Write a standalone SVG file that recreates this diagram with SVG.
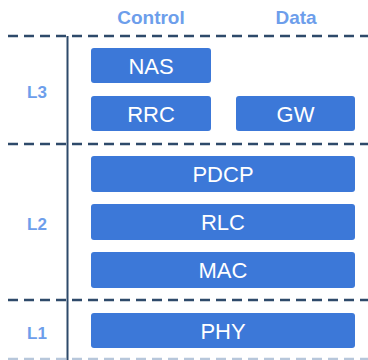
<svg xmlns="http://www.w3.org/2000/svg" width="368" height="360" viewBox="0 0 368 360">
<style>
.box{fill:#3c78d8}
.bt{fill:#ffffff;font-family:"Liberation Sans",Arial,sans-serif;font-size:22px;text-anchor:middle}
.hd{fill:#6d9eeb;font-family:"Liberation Sans",Arial,sans-serif;font-size:19px;font-weight:bold;text-anchor:middle}
.lv{fill:#6d9eeb;font-family:"Liberation Sans",Arial,sans-serif;font-size:17px;font-weight:bold;text-anchor:middle}
.dash{stroke:#2e4a6a;stroke-width:2.5;stroke-dasharray:10,6;fill:none}
</style>
<rect width="368" height="360" fill="#ffffff"/>
<g id="headers">
<text class="hd" x="151" y="24">Control</text>
<text class="hd" x="296" y="24">Data</text>
<text class="lv" x="37" y="98">L3</text>
<text class="lv" x="37" y="230">L2</text>
<text class="lv" x="37" y="339">L1</text>
</g>
<g id="connectors">
<line class="dash" x1="8" y1="36" x2="368" y2="36"/>
<line class="dash" x1="8" y1="144" x2="368" y2="144"/>
<line class="dash" x1="8" y1="300" x2="368" y2="300"/>
<line class="dash" x1="8" y1="359" x2="368" y2="359" style="stroke:#b7c7db"/>
<line x1="67.5" y1="36" x2="67.5" y2="360" stroke="#2e4a6a" stroke-width="2"/>
</g>
<g id="nas"><rect class="box" x="91" y="48" width="120" height="35" rx="3"/><text class="bt" x="151" y="74">NAS</text></g>
<g id="rrc"><rect class="box" x="91" y="96" width="120" height="35" rx="3"/><text class="bt" x="151" y="122">RRC</text></g>
<g id="gw"><rect class="box" x="236" y="96" width="119" height="35" rx="3"/><text class="bt" x="295.5" y="122">GW</text></g>
<g id="pdcp"><rect class="box" x="91" y="156" width="264" height="36" rx="3"/><text class="bt" x="223" y="182">PDCP</text></g>
<g id="rlc"><rect class="box" x="91" y="204" width="264" height="36" rx="3"/><text class="bt" x="223" y="230">RLC</text></g>
<g id="mac"><rect class="box" x="91" y="252" width="264" height="36" rx="3"/><text class="bt" x="223" y="278">MAC</text></g>
<g id="phy"><rect class="box" x="91" y="313" width="264" height="35" rx="3"/><text class="bt" x="223" y="339">PHY</text></g>
</svg>
